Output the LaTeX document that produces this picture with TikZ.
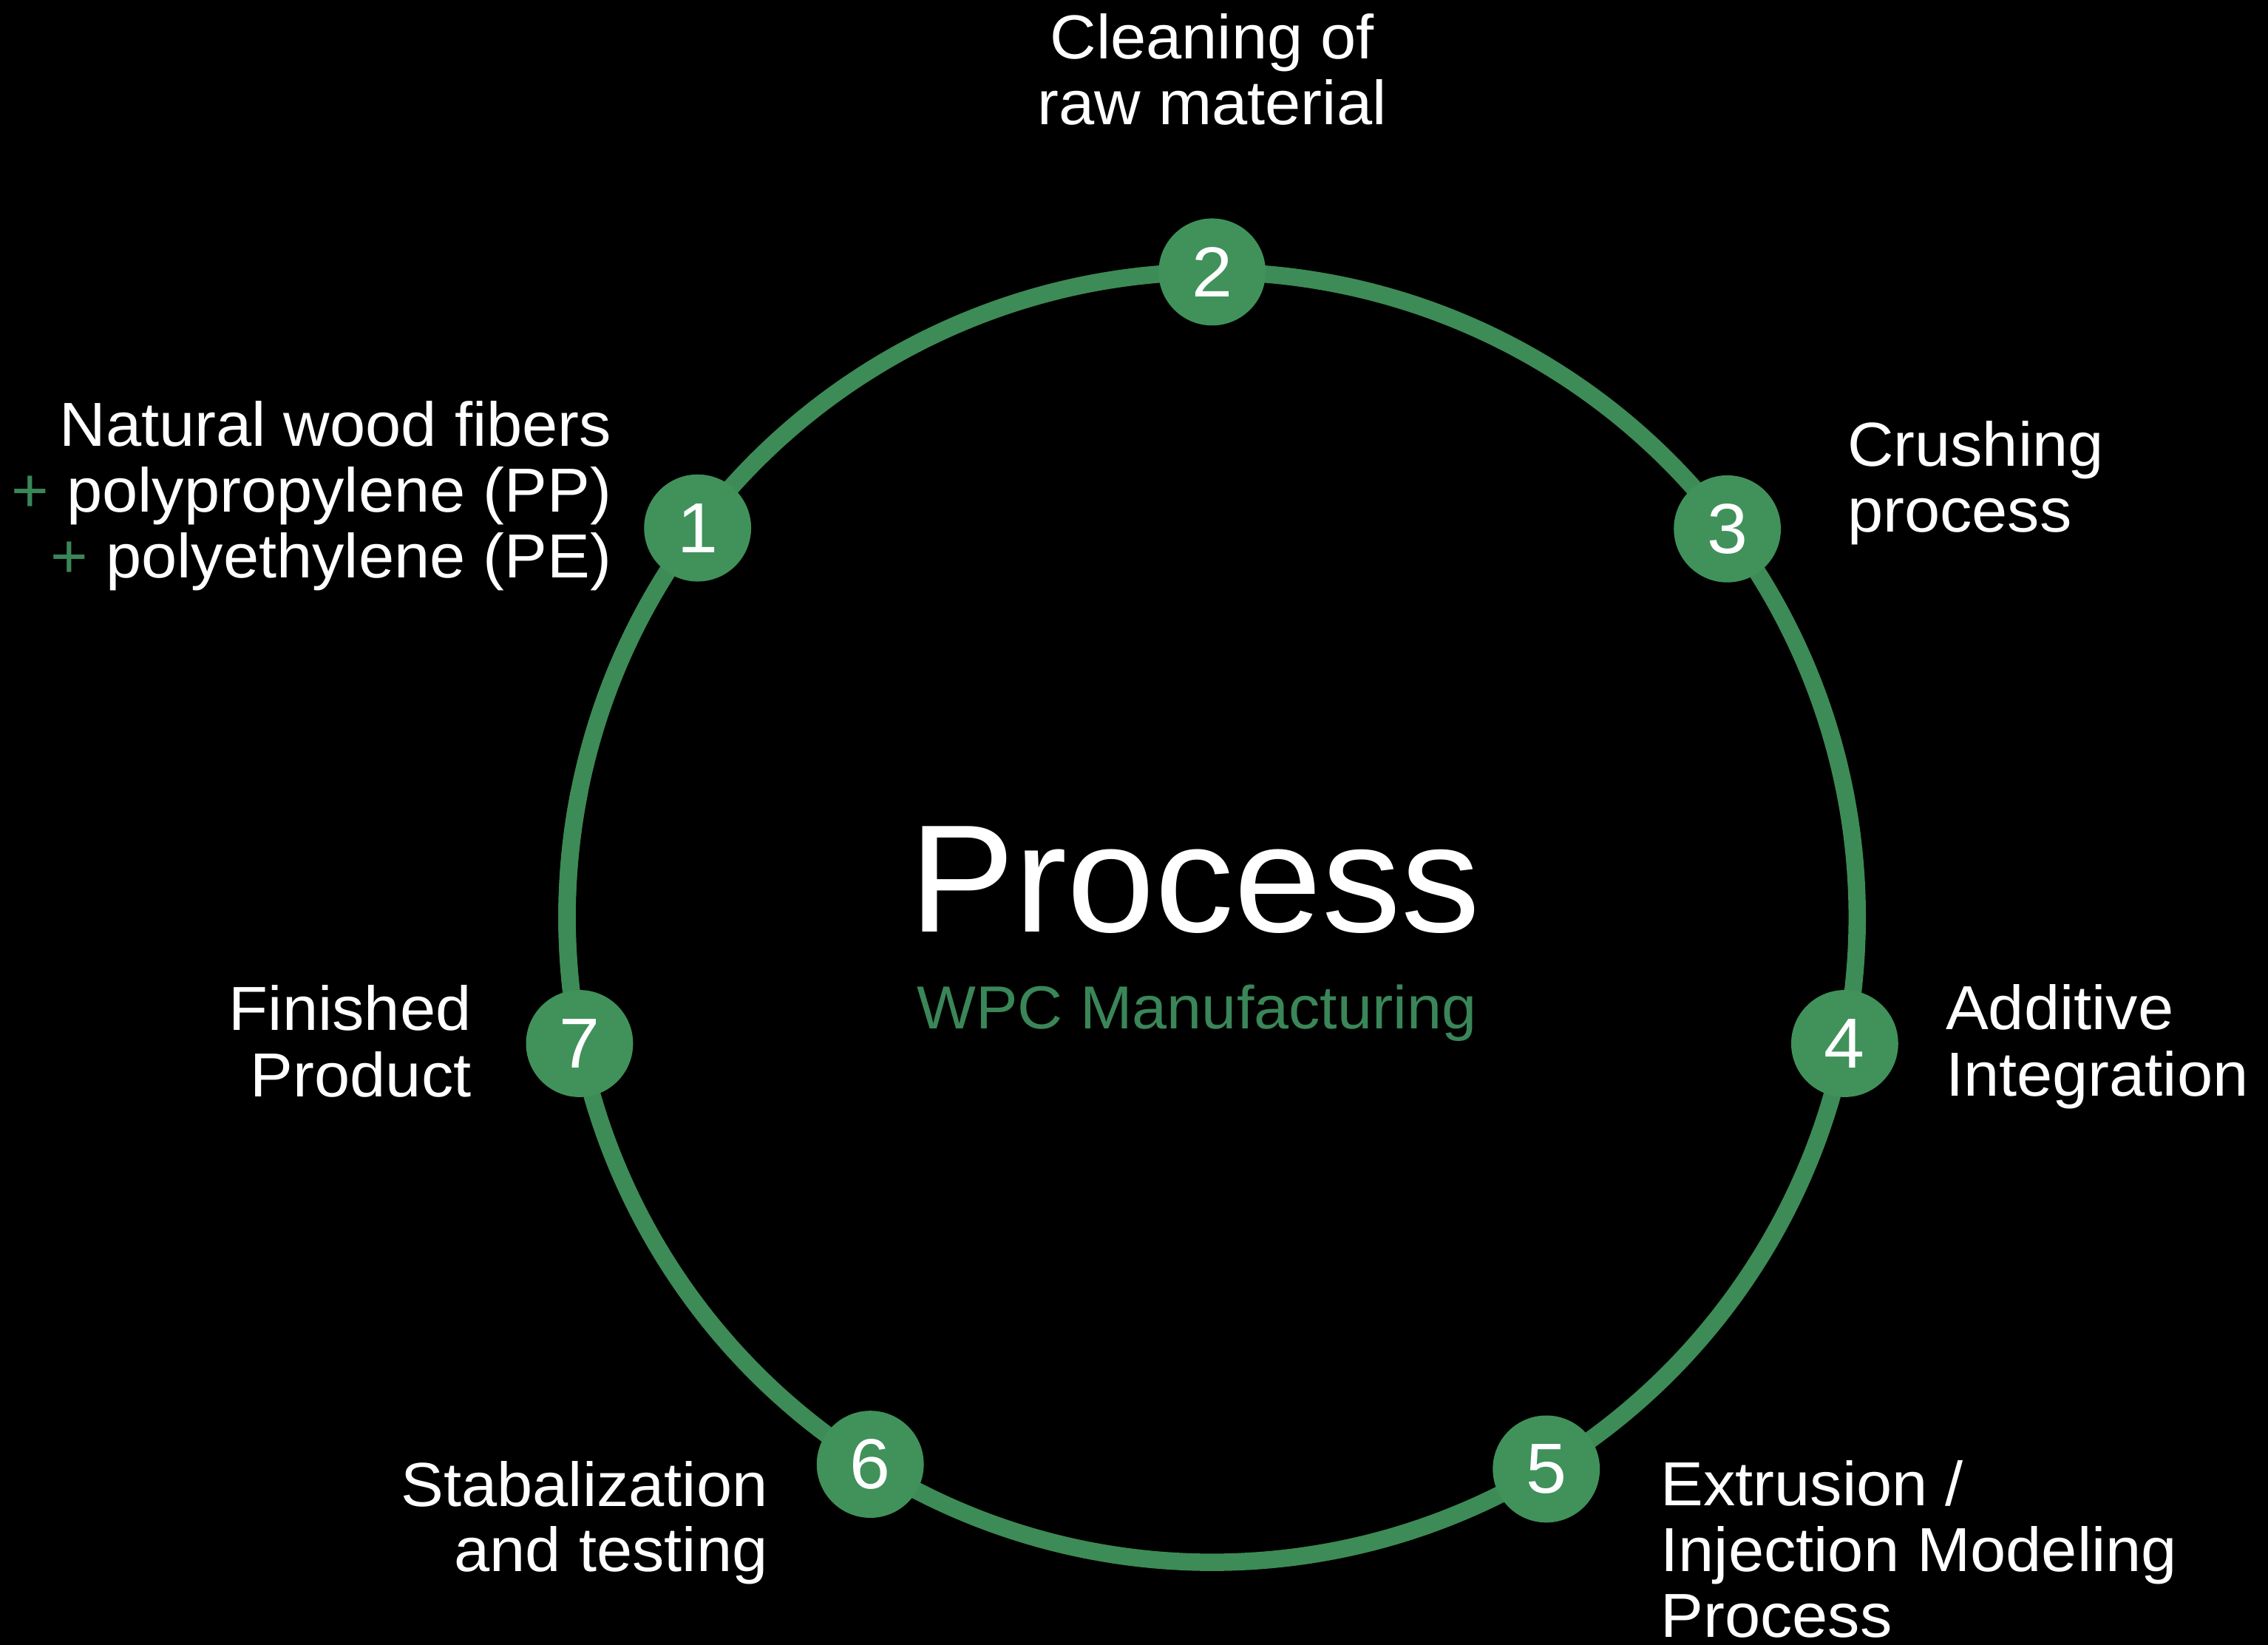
\documentclass[tikz,border=0pt]{standalone}
\usepackage{fontspec}
\setmainfont{Liberation Sans}[FakeStretch=1.03]
\usetikzlibrary{calc}
\definecolor{ringgreen}{RGB}{61,139,86}
\definecolor{nodegreen}{RGB}{64,146,90}
\definecolor{wpcgreen}{RGB}{58,134,88}
\tikzset{
  ring/.style={draw=ringgreen, line width=12pt},
  stepdot/.style={circle, fill=nodegreen, minimum size=74pt, inner sep=0pt, text=white, font=\fontsize{49}{49}\selectfont},
  lbl/.style={text=white, inner sep=0pt, font=\fontsize{43}{45.5}\selectfont},
}
\begin{document}
\begin{tikzpicture}[x=1pt,y=1pt]
\fill[black] (0,0) rectangle (1568,-1137);
\useasboundingbox (0,0) rectangle (1568,-1137);
\coordinate (c) at (838,-634);
% step positions on the ring
\coordinate (p1) at ($(c)+(142.9:446)$);
\coordinate (p2) at ($(c)+(90:446)$);
\coordinate (p3) at ($(c)+(37.0:446)$);
\coordinate (p4) at ($(c)+(-11.3:446)$);
\coordinate (p5) at ($(c)+(-58.8:446)$);
\coordinate (p6) at ($(c)+(-122.0:446)$);
\coordinate (p7) at ($(c)+(-168.7:446)$);
% ring connectors
\draw[ring] (p1) arc[start angle=142.9, end angle=90, radius=446];
\draw[ring] (p2) arc[start angle=90, end angle=37.0, radius=446];
\draw[ring] (p3) arc[start angle=37.0, end angle=-11.3, radius=446];
\draw[ring] (p4) arc[start angle=-11.3, end angle=-58.8, radius=446];
\draw[ring] (p5) arc[start angle=-58.8, end angle=-122.0, radius=446];
\draw[ring] (p6) arc[start angle=-122.0, end angle=-191.3, radius=446];
\draw[ring] (p7) arc[start angle=-168.7, end angle=-217.1, radius=446];
% step markers
\node[stepdot] (n1) at (p1) {1};
\node[stepdot] (n2) at (p2) {2};
\node[stepdot] (n3) at (p3) {3};
\node[stepdot] (n4) at (p4) {4};
\node[stepdot] (n5) at (p5) {5};
\node[stepdot] (n6) at (p6) {6};
\node[stepdot] (n7) at (p7) {7};
% labels
\node[lbl, anchor=north, align=center] (l2) at (838,-9.4) {Cleaning of\\raw material};
\node[lbl, anchor=north east, align=right] (l1) at (423,-277) {Natural wood fibers\\\textcolor{wpcgreen}{+} polypropylene (PP)\\\textcolor{wpcgreen}{+} polyethylene (PE)};
\node[lbl, anchor=north west, align=left, font=\fontsize{43}{45.5}\selectfont] (l3) at (1277,-291) {Crushing\\process};
\node[lbl, anchor=north west, align=left, font=\fontsize{43}{46}\selectfont] (l4) at (1345,-680.5) {Additive\\Integration};
\node[lbl, anchor=north west, align=left, font=\fontsize{43}{45.6}\selectfont] (l5) at (1148,-1009.4) {Extrusion /\\Injection Modeling\\Process};
\node[lbl, anchor=north east, align=right, font=\fontsize{43}{45}\selectfont] (l6) at (531,-1010) {Stabalization\\and testing};
\node[lbl, anchor=north east, align=right, font=\fontsize{43}{46}\selectfont] (l7) at (326,-680.6) {Finished\\Product};
% centre title
\node[text=white, inner sep=0pt, anchor=north, font=\fontsize{106}{106}\selectfont] (title) at (826,-571) {Process};
\node[text=wpcgreen, inner sep=0pt, anchor=north, font=\fontsize{42}{42}\selectfont] (sub) at (827.5,-680.5) {WPC Manufacturing};
\end{tikzpicture}
\end{document}
